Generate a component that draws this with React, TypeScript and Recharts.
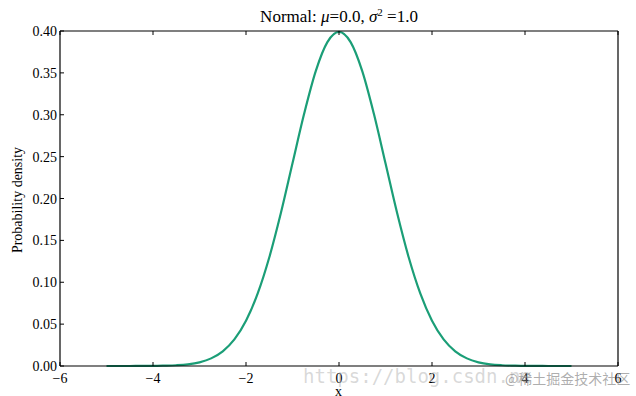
import { Line, LineChart, XAxis, YAxis } from "recharts";

const xValues = [
  -5, -4.75, -4.5, -4.25, -4, -3.75, -3.5, -3.25, -3, -2.75, -2.5, -2.25, -2, -1.75, -1.5, -1.25, -1, -0.75, -0.5, -0.25,
  0, 0.25, 0.5, 0.75, 1, 1.25, 1.5, 1.75, 2, 2.25, 2.5, 2.75, 3, 3.25, 3.5, 3.75, 4, 4.25, 4.5, 4.75, 5,
];
const densityValues = [
  0.0, 0.0, 0.0, 0.0001, 0.0001, 0.0004, 0.0009, 0.002, 0.0044, 0.0091, 0.0175, 0.0317, 0.054, 0.0863, 0.1295, 0.1826,
  0.242, 0.3011, 0.3521, 0.3867, 0.3989, 0.3867, 0.3521, 0.3011, 0.242, 0.1826, 0.1295, 0.0863, 0.054, 0.0317, 0.0175,
  0.0091, 0.0044, 0.002, 0.0009, 0.0004, 0.0001, 0.0001, 0.0, 0.0, 0.0,
];
const xTicks = [-6, -4, -2, 0, 2, 4, 6];
const yTicks = [0, 0.05, 0.1, 0.15, 0.2, 0.25, 0.3, 0.35, 0.4];

const data = xValues.map((x, i) => ({ x, y: densityValues[i] }));

const FONT = "'Liberation Serif', 'DejaVu Serif', serif";
const TICK = 4;

const fmtX = (v: number) => (v < 0 ? `\u2212${Math.abs(v)}` : `${v}`);

function BottomTick({ x, y, payload }: any) {
  return (
    <g>
      <line x1={x} y1={y} x2={x} y2={y - TICK} stroke="#000" />
      <text x={x} y={y + 17} textAnchor="middle" fontFamily={FONT} fontSize={14} fill="#000">
        {fmtX(payload.value)}
      </text>
    </g>
  );
}

function TopTick({ x, y }: any) {
  return <line x1={x} y1={y} x2={x} y2={y + TICK} stroke="#000" />;
}

function LeftTick({ x, y, payload }: any) {
  return (
    <g>
      <line x1={x} y1={y} x2={x + TICK} y2={y} stroke="#000" />
      <text x={x - 3} y={y + 5} textAnchor="end" fontFamily={FONT} fontSize={14} fill="#000">
        {payload.value.toFixed(2)}
      </text>
    </g>
  );
}

function RightTick({ x, y }: any) {
  return <line x1={x} y1={y} x2={x - TICK} y2={y} stroke="#000" />;
}

export default function App() {
  return (
    <div style={{ position: "absolute", left: 0, top: 0, width: 636, height: 396, background: "#fff", overflow: "hidden" }}>
      <LineChart width={636} height={396} data={data} margin={{ top: 30, right: 17, bottom: 0, left: 0 }}>
        <XAxis
          xAxisId="bottom"
          dataKey="x"
          type="number"
          domain={[-6, 6]}
          ticks={xTicks}
          height={30}
          tickSize={0}
          tickMargin={0}
          tickLine={false}
          axisLine={{ stroke: "#000", strokeWidth: 1.2 }}
          tick={<BottomTick />}
          interval={0}
        />
        <XAxis
          xAxisId="top"
          orientation="top"
          dataKey="x"
          type="number"
          domain={[-6, 6]}
          ticks={xTicks}
          height={1}
          tickSize={0}
          tickMargin={0}
          tickLine={false}
          axisLine={{ stroke: "#000", strokeWidth: 1.2 }}
          tick={<TopTick />}
          interval={0}
        />
        <YAxis
          yAxisId="left"
          type="number"
          domain={[0, 0.4]}
          ticks={yTicks}
          width={60}
          tickSize={0}
          tickMargin={0}
          tickLine={false}
          axisLine={{ stroke: "#000", strokeWidth: 1.2 }}
          tick={<LeftTick />}
          interval={0}
        />
        <YAxis
          yAxisId="right"
          orientation="right"
          type="number"
          domain={[0, 0.4]}
          ticks={yTicks}
          width={1}
          tickSize={0}
          tickMargin={0}
          tickLine={false}
          axisLine={{ stroke: "#000", strokeWidth: 1.2 }}
          tick={<RightTick />}
          interval={0}
        />
        <Line
          xAxisId="bottom"
          yAxisId="left"
          type="monotone"
          dataKey="y"
          stroke="#1b9e77"
          strokeWidth={2.2}
          dot={false}
          isAnimationActive={false}
        />
      </LineChart>
      <div
        style={{
          position: "absolute",
          left: 0,
          width: 678,
          top: 6,
          textAlign: "center",
          fontFamily: FONT,
          fontSize: 17,
          color: "#000",
          whiteSpace: "nowrap",
        }}
      >
        Normal: <i>μ</i>=0.0, <i>σ</i>
        <sup style={{ fontSize: 11, verticalAlign: "6px" }}>2</sup> =1.0
      </div>
      <div
        style={{
          position: "absolute",
          left: 18,
          top: 200,
          transform: "translate(-50%, -50%) rotate(-90deg)",
          fontFamily: FONT,
          fontSize: 14,
          color: "#000",
          whiteSpace: "nowrap",
        }}
      >
        Probability density
      </div>
      <div style={{ position: "absolute", left: 335, top: 384, fontFamily: FONT, fontSize: 14, color: "#000" }}>x</div>
      <div
        style={{
          position: "absolute",
          left: 303,
          top: 365,
          fontFamily: "'DejaVu Sans Mono', monospace",
          fontSize: 19,
          color: "rgba(170,170,170,0.45)",
          whiteSpace: "nowrap",
        }}
      >
        https://blog.csdn.ne
      </div>
      <div
        style={{
          position: "absolute",
          left: 505,
          top: 368,
          fontFamily: "'Noto Sans CJK SC', sans-serif",
          fontSize: 14,
          color: "rgba(120,120,120,0.6)",
          whiteSpace: "nowrap",
        }}
      >
        @稀土掘金技术社区
      </div>
    </div>
  );
}
